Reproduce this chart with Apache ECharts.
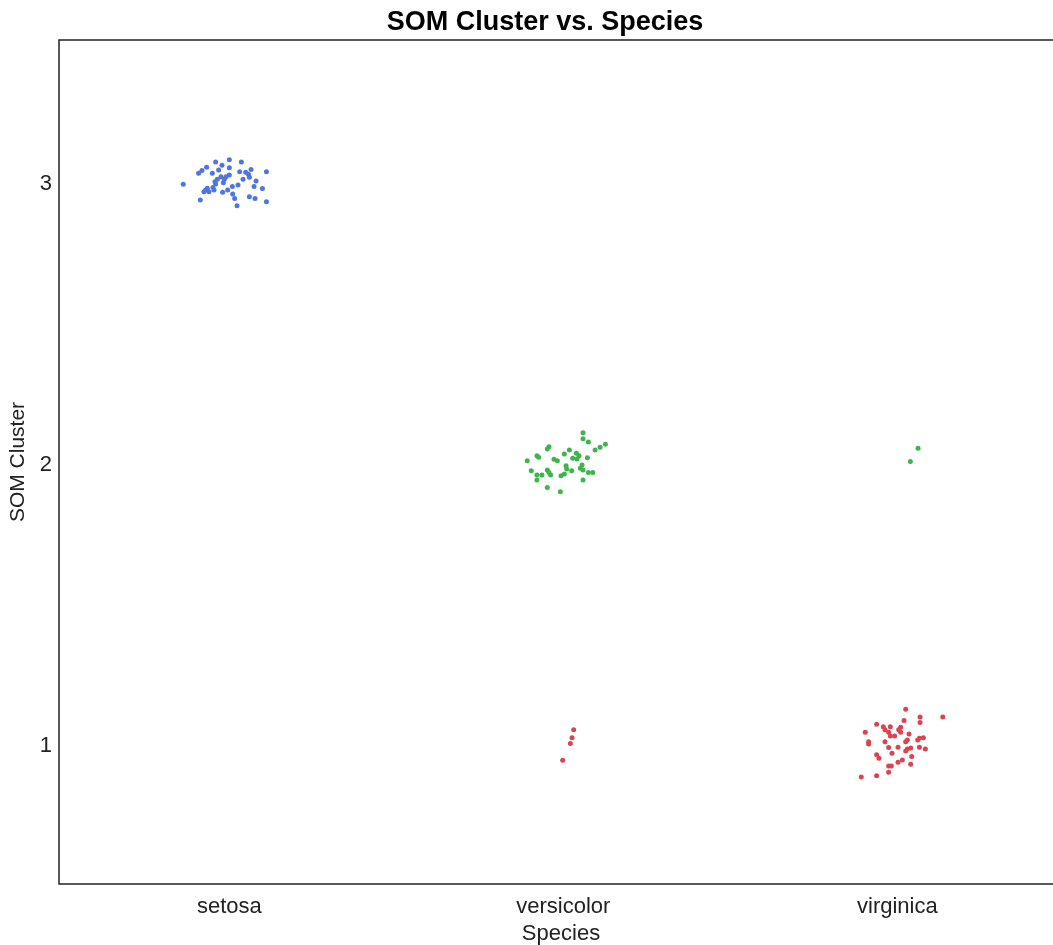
<!DOCTYPE html>
<html>
<head>
<meta charset="utf-8">
<script src="https://cdn.jsdelivr.net/npm/echarts@6/dist/echarts.min.js"></script>
<style>
html,body{margin:0;padding:0;background:#fff;}
#chart{width:1053px;height:945px;}
</style>
</head>
<body>
<div id="chart"></div>
<script>
const categories = ['setosa', 'versicolor', 'virginica'];
const clusterTicks = [1, 2, 3];

// jittered [species position, SOM cluster]
const setosaPoints = [
  [0.862,2.997],[0.908,3.036],[0.918,3.046],[0.932,3.058],[0.959,3.076],[1.000,3.084],
  [1.036,3.076],[0.978,3.065],[0.968,3.048],[0.949,3.036],[1.000,3.056],[1.031,3.042],
  [1.049,3.040],[1.065,3.050],[1.057,3.033],[1.111,3.042],[1.000,3.030],[0.990,3.024],
  [0.975,3.024],[0.964,3.015],[0.957,3.006],[0.985,3.015],[0.982,3.003],[0.959,2.998],
  [1.041,3.015],[1.060,3.022],[1.080,3.009],[1.074,2.989],[1.099,2.982],[1.026,2.995],
  [1.009,2.989],[0.995,2.977],[0.980,2.969],[0.954,2.977],[0.939,2.971],[0.929,2.977],
  [0.924,2.971],[0.934,2.983],[0.951,2.986],[1.010,2.963],[1.016,2.947],[1.060,2.953],
  [1.077,2.947],[0.913,2.941],[1.023,2.921],[1.111,2.935]
];
const versicolorPoints = [
  [2.059,2.114],[2.059,2.093],[2.075,2.081],[2.126,2.073],[2.110,2.062],[2.095,2.053],
  [1.957,2.064],[1.952,2.056],[2.018,2.053],[2.003,2.038],[2.039,2.041],[2.047,2.032],
  [2.028,2.023],[2.041,2.021],[2.072,2.025],[1.921,2.032],[1.926,2.027],[1.972,2.020],
  [1.982,2.014],[1.892,2.014],[2.008,1.997],[2.010,1.985],[2.056,1.999],[2.051,1.988],
  [2.059,1.982],[2.025,1.979],[1.952,1.982],[1.957,1.973],[1.904,1.979],[1.921,1.964],
  [1.936,1.964],[1.962,1.964],[1.993,1.961],[2.003,1.967],[2.075,1.973],[2.088,1.973],
  [1.921,1.946],[2.059,1.946],[1.952,1.919],[1.991,1.904],
  [2.031,1.058],[2.026,1.030],[2.021,1.009],[1.998,0.950]
];
const virginicaPoints = [
  [3.062,2.059],[3.039,2.012],
  [3.025,1.131],[3.068,1.104],[3.136,1.104],[3.020,1.091],[3.068,1.084],[2.938,1.078],
  [2.958,1.069],[2.979,1.069],[3.010,1.067],[2.963,1.058],[3.004,1.058],[2.904,1.049],
  [2.974,1.049],[3.035,1.043],[2.979,1.036],[2.992,1.036],[3.010,1.049],[3.066,1.028],
  [3.078,1.030],[3.030,1.022],[2.914,1.016],[2.914,1.008],[2.963,1.016],[3.061,1.022],
  [3.025,1.016],[2.974,0.995],[3.002,0.996],[3.030,0.990],[3.040,0.993],[3.066,0.996],
  [3.084,0.990],[3.025,0.983],[2.984,0.975],[2.938,0.969],[2.945,0.957],[3.043,0.963],
  [3.015,0.951],[3.002,0.943],[3.040,0.936],[2.974,0.929],[2.982,0.929],[2.974,0.907],
  [2.938,0.895],[2.892,0.890]
];
// points are coloured by SOM cluster
const clusterColors = {1: '#d94452', 2: '#3db54a', 3: '#4f75e0'};

const allPoints = setosaPoints.concat(versicolorPoints, virginicaPoints);
function byCluster(c) {
  return allPoints.filter(p => Math.round(p[1]) === c);
}

const chart = echarts.init(document.getElementById('chart'), null, {renderer: 'canvas'});
const font = 'Liberation Sans, Arial, sans-serif';
chart.setOption({
  backgroundColor: '#ffffff',
  animation: false,
  title: {
    text: 'SOM Cluster vs. Species',
    left: 540, top: 4, textAlign: 'center',
    textStyle: {fontFamily: font, fontSize: 27, fontWeight: 'bold', color: '#000'}
  },
  grid: {
    left: 59, top: 40, width: 1004, height: 844,
    outerBoundsMode: 'none', containLabel: false,
    show: true, borderColor: '#222', borderWidth: 1.5, backgroundColor: '#fff'
  },
  xAxis: {
    type: 'value', min: 0.49, max: 3.496,
    name: 'Species', nameLocation: 'middle', nameGap: 36,
    nameTextStyle: {fontFamily: font, fontSize: 22, color: '#222'},
    axisLine: {show: false}, axisTick: {show: false}, splitLine: {show: false},
    axisLabel: {
      customValues: [1, 2, 3], margin: 12,
      fontFamily: font, fontSize: 22, color: '#222',
      formatter: v => categories[Math.round(v) - 1]
    }
  },
  yAxis: {
    type: 'value', min: 0.51, max: 3.51,
    name: 'SOM Cluster', nameLocation: 'middle', nameGap: 28,
    nameTextStyle: {fontFamily: font, fontSize: 21, color: '#222'},
    axisLine: {show: false}, axisTick: {show: false}, splitLine: {show: false},
    axisLabel: {
      customValues: clusterTicks, margin: 7,
      fontFamily: font, fontSize: 22, color: '#222',
      formatter: v => String(v)
    }
  },
  series: [3, 2, 1].map(c => ({
    type: 'scatter',
    data: byCluster(c),
    symbol: 'circle', symbolSize: 5,
    itemStyle: {color: clusterColors[c], opacity: 1},
    silent: true
  }))
});
</script>
</body>
</html>
